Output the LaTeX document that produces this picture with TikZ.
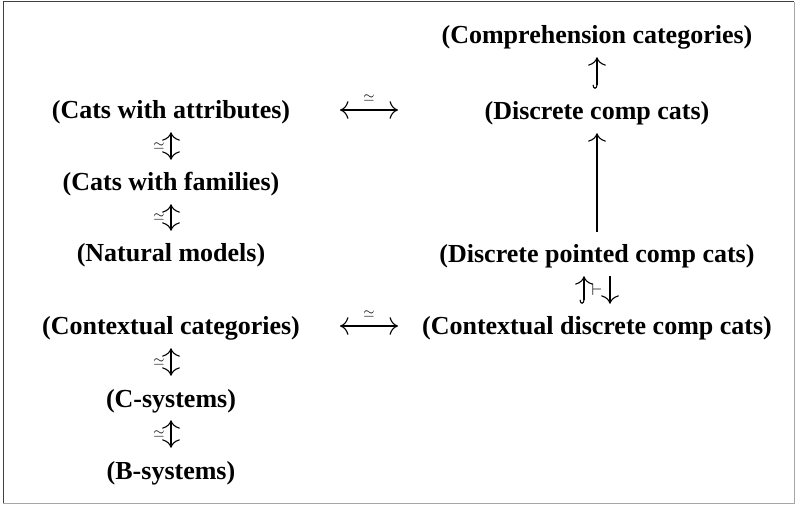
\documentclass[tikz,border=0pt]{standalone}
\usepackage{fontspec}
\setmainfont{Liberation Serif}
\usetikzlibrary{arrows.meta}
\begin{document}
\begin{tikzpicture}[x=1pt,y=-1pt,
  obj/.style={font=\fontsize{26}{30}\selectfont\bfseries, inner xsep=6pt, inner ysep=10pt, text height=21pt, text depth=3pt},
  iso/.style={line width=1.1pt, {Computer Modern Rightarrow[scale=2.1]}-{Computer Modern Rightarrow[scale=2.1]}},
  mono/.style={line width=1.1pt, {Hooks[arc=180,right,length=4pt,width=9pt]}-{Computer Modern Rightarrow[scale=2.1]}},
  plain/.style={line width=1.1pt, -{Computer Modern Rightarrow[scale=2.1]}},
  lab/.style={font=\fontsize{15}{17}\selectfont, inner sep=0pt}]
\useasboundingbox (0,0) rectangle (796,505);
\draw[color=black!75, line width=1pt] (3,503) -- (3,2) -- (794,2);
\draw[color=black!35, line width=1pt] (794,2) -- (794,503) -- (3,503);
% left column
\node[obj] (caw) at (171,110) {(Cats with attributes)};
\node[obj] (cwf) at (171,182) {(Cats with families)};
\node[obj] (nm)  at (171,253) {(Natural models)};
\node[obj] (cc)  at (171,326) {(Contextual categories)};
\node[obj] (cs)  at (171,398) {(C-systems)};
\node[obj] (bs)  at (171,470) {(B-systems)};
% right column
\node[obj] (comp) at (597,35)  {(Comprehension categories)};
\node[obj] (dcc)  at (597,111) {(Discrete comp cats)};
\node[obj] (dpcc) at (597,254) {(Discrete pointed comp cats)};
\node[obj] (cdcc) at (597,326) {(Contextual discrete comp cats)};
% horizontal arrow ends
\coordinate (h1l) at (340,110);
\coordinate (h1r) at (398,110);
\coordinate (h2l) at (340,326);
\coordinate (h2r) at (398,326);
% left vertical isos
\draw[iso] (caw) -- (cwf) node[lab, midway, xshift=-12pt] {$\simeq$};
\draw[iso] (cwf) -- (nm) node[lab, midway, xshift=-12pt] {$\simeq$};
\draw[iso] (cc) -- (cs) node[lab, midway, xshift=-12pt] {$\simeq$};
\draw[iso] (cs) -- (bs) node[lab, midway, xshift=-12pt] {$\simeq$};
% horizontal isos
\draw[iso] (h1l) -- (h1r) node[lab, midway, yshift=12pt] {$\simeq$};
\draw[iso] (h2l) -- (h2r) node[lab, midway, yshift=12pt] {$\simeq$};
% right column
\draw[mono] (dcc) -- (comp);
\draw[plain] (dpcc) -- (dcc);
\draw[mono] ([xshift=-13pt]cdcc.north) -- ([xshift=-13pt]dpcc.south);
\draw[plain] ([xshift=13pt]dpcc.south) -- ([xshift=13pt]cdcc.north)
  node[lab, midway, xshift=-13pt, font=\fontsize{18}{20}\selectfont] {$\vdash$};
\end{tikzpicture}
\end{document}
